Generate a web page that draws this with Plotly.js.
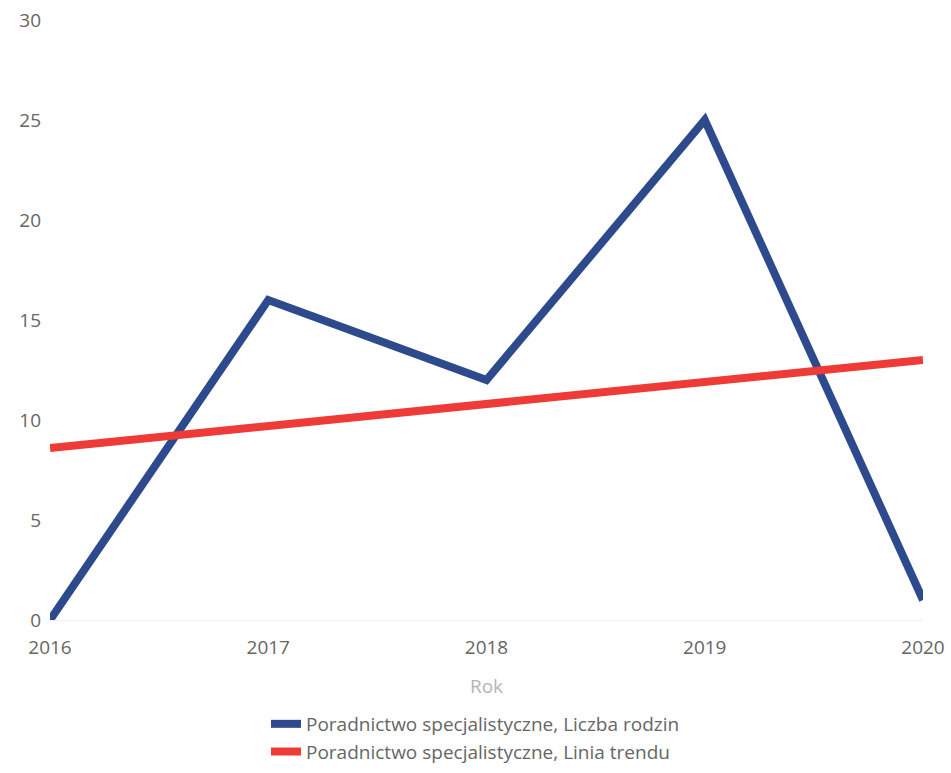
<!DOCTYPE html>
<html>
<head>
<meta charset="utf-8">
<script src="https://cdn.plot.ly/plotly-3.0.1.min.js"></script>
<style>html,body{margin:0;padding:0;background:#fff;}#chart{width:951px;height:773px;}</style>
</head>
<body>
<div id="chart"></div>
<script>
const years = [2016, 2017, 2018, 2019, 2020];
const familyCounts = [0, 16, 12, 25, 1];
const trendValues = [8.6, 9.7, 10.8, 11.9, 13.0];
const seriesNames = ["Poradnictwo specjalistyczne, Liczba rodzin", "Poradnictwo specjalistyczne, Linia trendu"];
const yTicks = [0, 5, 10, 15, 20, 25, 30];

const traces = [
  {x: years, y: familyCounts, name: seriesNames[0], type: 'scatter', mode: 'lines',
   line: {color: '#2c4a8c', width: 8}},
  {x: years, y: trendValues, name: seriesNames[1], type: 'scatter', mode: 'lines',
   line: {color: '#ee3b37', width: 8}}
];

const layout = {
  width: 951, height: 773,
  margin: {l: 50, r: 28, t: 20, b: 153, autoexpand: false},
  paper_bgcolor: '#fff', plot_bgcolor: '#fff',
  font: {family: '"Open Sans", "DejaVu Sans", sans-serif', color: '#666', size: 19},
  showlegend: true,
  legend: {orientation: 'v', xref: 'container', yref: 'container', x: 0.5, xanchor: 'center',
           y: 0.088, yanchor: 'top',
           font: {size: 19, color: '#666'}, tracegroupgap: 0, itemwidth: 30},
  xaxis: {
    range: [2016, 2020], tickvals: years, ticktext: years.map(String),
    showgrid: false, zeroline: false, showline: true, linecolor: '#eef0f4', linewidth: 1,
    ticks: '', tickfont: {size: 19, color: '#666'}, ticklabelstandoff: 10,
    title: {text: 'Rok', font: {size: 19, color: '#b5b5b5'}, standoff: 20}
  },
  yaxis: {
    range: [0, 30], tickvals: yTicks, showgrid: false, zeroline: false, showline: false,
    ticks: '', tickfont: {size: 19, color: '#666'}, ticklabelstandoff: 8
  }
};

Plotly.newPlot('chart', traces, layout, {displayModeBar: false, staticPlot: true});
</script>
</body>
</html>
